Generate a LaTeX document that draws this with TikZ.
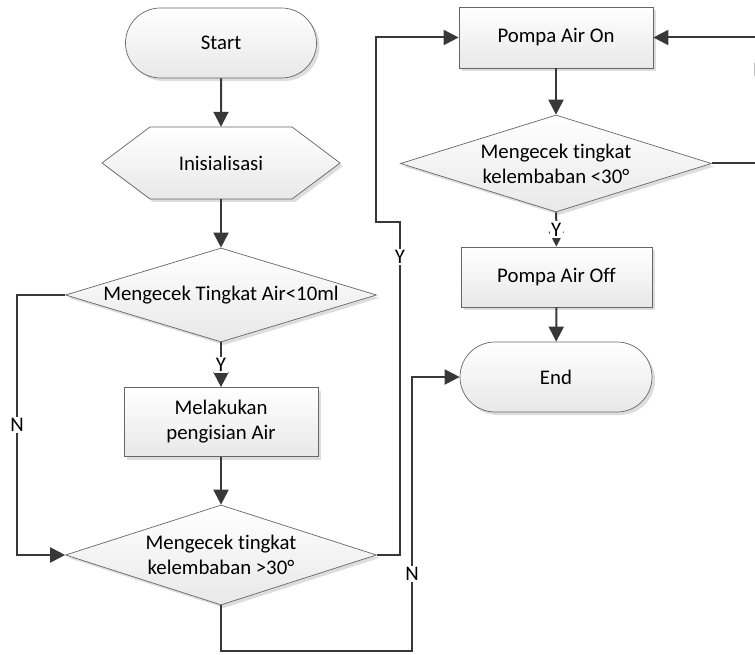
\documentclass[tikz,border=0pt]{standalone}
\usepackage{fontspec}
\setmainfont{Carlito}[Ligatures=NoCommon]
\usetikzlibrary{arrows.meta,shapes.geometric,shapes.misc,shadows}
\begin{document}
\begin{tikzpicture}[x=1pt,y=-1pt,
  paint/.style={draw=black!60, line width=0.7pt, top color=white, bottom color=black!9,
    drop shadow={shadow xshift=3pt, shadow yshift=-3pt, fill=black!22, opacity=0.6}},
  txt/.style={font=\fontsize{20.8}{25}\selectfont, align=center, inner sep=0pt},
  base/.style={paint, txt},
  term/.style={base, rounded rectangle, minimum width=191pt, minimum height=70pt},
  proc/.style={base, rectangle, minimum width=194pt},
  dec/.style={base, diamond, minimum width=311pt},
  conn/.style={draw=black!78, line width=2pt},
  arr/.style={conn, -{Triangle[length=15pt,width=15pt]}},
  lbl/.style={fill=white, font=\fontsize{20.8}{25}\selectfont, inner sep=1.5pt}
]
\useasboundingbox (0,0) rectangle (755,655);
\clip (0,0) rectangle (755,655);

% shapes
\node[term] (start) at (221,43) {Start};
\path[paint] (102,163) -- (150,127) -- (292,127) -- (340,163) -- (292,199) -- (150,199) -- cycle;
\node[txt, minimum width=238pt, minimum height=72pt] (ini) at (221,163) {Inisialisasi};
\node[dec, minimum height=94pt, aspect=3.31] (d1) at (221,295) {Mengecek Tingkat Air<10ml};
\node[proc, minimum height=69pt] (isi) at (221,422) {Melakukan\\pengisian Air};
\node[dec, minimum height=100pt, aspect=3.11] (d2) at (221,555) {Mengecek tingkat\\kelembaban >30°};
\node[proc, minimum height=61pt] (pon) at (556,37.5) {Pompa Air On};
\node[dec, minimum height=97pt, aspect=3.2] (d3) at (556,163.5) {Mengecek tingkat\\kelembaban <30°};
\node[proc, minimum width=191pt, minimum height=60pt] (poff) at (556.5,277) {Pompa Air Off};
\node[term, minimum width=192pt] (end) at (556,377) {End};

% bend points
\coordinate (l1) at (17,295);
\coordinate (r1) at (400,555);
\coordinate (r2) at (400,222);
\coordinate (r3) at (376,222);
\coordinate (b1) at (412,651);
\coordinate (e1) at (762,163.5);
\coordinate (e2) at (762,37.5);

% connectors
\draw[arr] (start) -- (ini);
\draw[arr] (ini) -- (d1);
\draw[arr] (d1) -- node[lbl] (y1) {Y} (isi);
\draw[arr] (isi) -- (d2);
\draw[arr] (d1.west) -- (l1) |- node[pos=0.25, lbl] (n1) {N} (d2.west);
\draw[arr] (d2.east) -- (r1) -- node[pos=0.895, lbl] (y2) {Y} (r2) -- (r3) |- (pon.west);
\draw[arr] (d2.south) |- (b1) |- node[pos=0.14, lbl] (n2) {N} (end.west);
\draw[arr] (pon) -- (d3);
\draw[arr] (d3) -- node[lbl] (y3) {Y} (poff);
\draw[arr] (poff) -- (end);
\draw[arr] (d3.east) -- (e1) -- (e2) -- (pon.east);
\node[lbl] (n3) at (760,70) {N};
\end{tikzpicture}
\end{document}
